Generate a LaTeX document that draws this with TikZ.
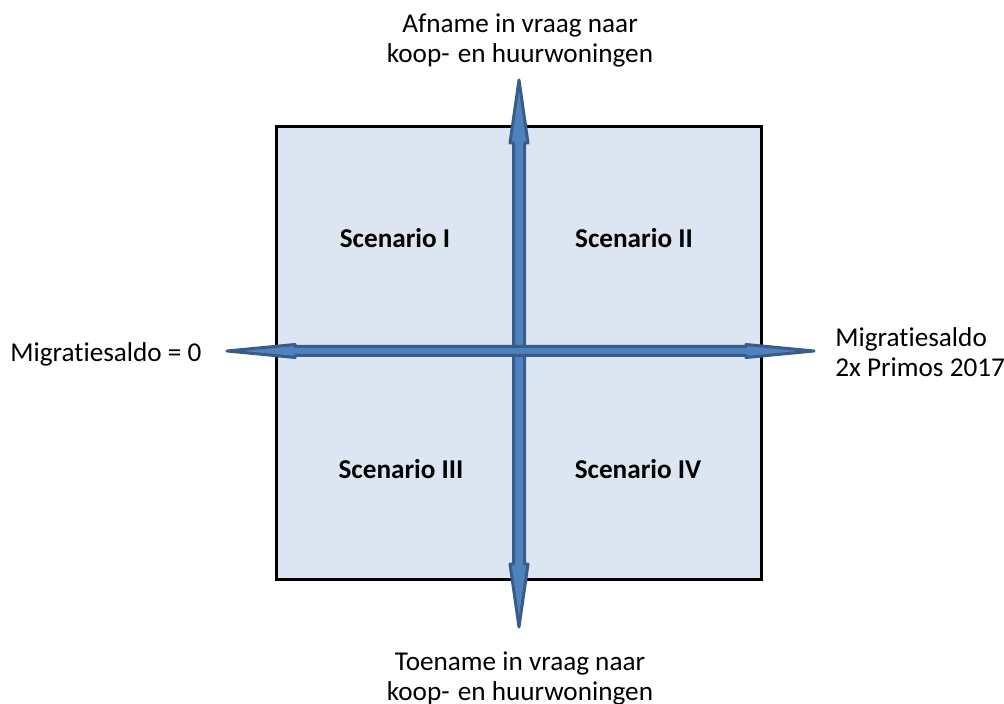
\documentclass[tikz,border=0pt]{standalone}
\usepackage{fontspec}
\setmainfont{Carlito}[Ligatures=NoCommon]
\usetikzlibrary{positioning}

\definecolor{quadfill}{HTML}{DCE6F2}
\definecolor{axisfill}{HTML}{4F81BD}
\definecolor{axisline}{HTML}{385D8A}

\begin{document}
\begin{tikzpicture}[
			x=0.5pt, y=-0.5pt,
			quad/.style = {draw=black, line width=1.5pt, fill=quadfill},
			axis/.style = {draw=axisline, fill=axisfill, line width=1.5pt, line join=round},
			lbl/.style = {font=\fontsize{13.6}{15}\selectfont, inner sep=0pt, align=center},
			scen/.style = {font=\fontsize{13.6}{15}\selectfont\bfseries, inner sep=0pt}
		]
		\useasboundingbox (0,0) rectangle (1004,704);
		\draw[quad] (276,127) rectangle (761,579);
		% vertical axis
		\coordinate (top) at (519,80);
		\coordinate (bottom) at (519,627);
		\draw[axis] (top) -- (528,143) -- (524.5,143) -- (524.5,564) -- (528,564)
			-- (bottom) -- (510,564) -- (513.5,564) -- (513.5,143) -- (510,143) -- cycle;
		% horizontal axis
		\coordinate (left) at (227,351);
		\coordinate (right) at (814,351);
		\draw[axis] (left) -- (295,344.5) -- (295,346.5) -- (746,346.5) -- (746,344.5)
			-- (right) -- (746,357.5) -- (746,355.5) -- (295,355.5) -- (295,357.5) -- cycle;
		% labels (base = last line)
		\node[lbl, anchor=base] (up) at (520,63) {Afname in vraag naar\\koop-\hspace{0.3em}en huurwoningen};
		\node[lbl, anchor=base] (down) at (520,700) {Toename in vraag naar\\koop-\hspace{0.3em}en huurwoningen};
		\node[lbl, anchor=base west, align=left] (east) at (835,377) {Migratiesaldo\\2x Primos 2017};
		\node[lbl, anchor=base west] (west) at (10,362) {Migratiesaldo = 0};
		\node[scen, anchor=base] (s1) at (395,248) {Scenario I};
		\node[scen, anchor=base] (s2) at (634,248) {Scenario II};
		\node[scen, anchor=base] (s3) at (401,478) {Scenario III};
		\node[scen, anchor=base] (s4) at (638,478) {Scenario IV};
	\end{tikzpicture}
\end{document}
